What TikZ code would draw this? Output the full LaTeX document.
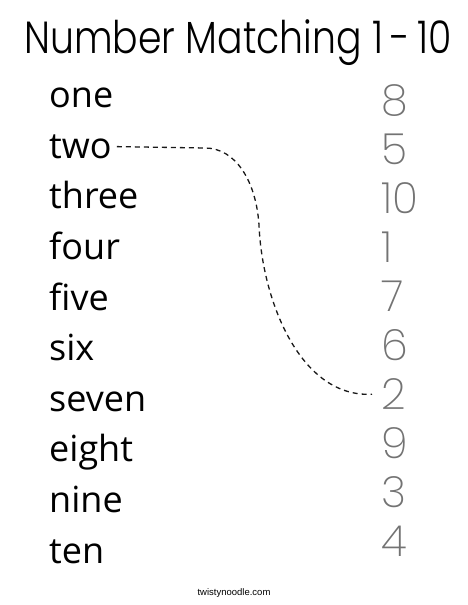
\documentclass[tikz,border=0pt]{standalone}
\usepackage{fontspec}
\setmainfont{Open Sans}
\newfontfamily\titlefont{Poppins Light}[FakeStretch=0.84]
\newfontfamily\digitfont{Poppins ExtraLight}
\newfontfamily\footfont{Liberation Sans}
\begin{document}
\begin{tikzpicture}[x=1pt,y=-1pt,
  word/.style={anchor=base west, inner sep=0pt, font=\fontsize{36}{40}\selectfont},
  digit/.style={anchor=base west, inner sep=0pt, text=black!55, font=\digitfont\fontsize{43}{48}\selectfont},
  link/.style={dash pattern=on 5pt off 4pt, line width=1.3pt, black!90}]
\useasboundingbox (0,0) rectangle (468,605);
\node[anchor=base west, inner sep=0pt, font=\titlefont\fontsize{45}{50}\selectfont] (title) at (24,53) {Number Matching 1\,-\,10};
\node[word] (w1)  at (49,107.7) {one};
\node[word] (w2)  at (49,158.3) {two};
\node[word] (w3)  at (49,208.9) {three};
\node[word] (w4)  at (49,259.5) {four};
\node[word] (w5)  at (49,310.1) {five};
\node[word] (w6)  at (49,360.7) {six};
\node[word] (w7)  at (49,411.3) {seven};
\node[word] (w8)  at (49,461.9) {eight};
\node[word] (w9)  at (49,512.5) {nine};
\node[word] (w10) at (49,563.1) {ten};
\node[digit] (d1)  at (381,115.7) {8};
\node[digit] (d2)  at (381,164.7) {5};
\node[digit] (d3)  at (381,213.7) {10};
\node[digit] (d4)  at (381,262.7) {1};
\node[digit] (d5)  at (381,311.7) {7};
\node[digit] (d6)  at (381,360.7) {6};
\node[digit] (d7)  at (381,409.7) {2};
\node[digit] (d8)  at (381,458.7) {9};
\node[digit] (d9)  at (381,507.7) {3};
\node[digit] (d10) at (381,556.7) {4};
\draw[link] ([xshift=5pt]w2.east) -- (205,148) .. controls (235,148) and (256,180) .. (259,225)
  .. controls (262,300) and (300,398) .. ([xshift=-9pt]d7.west);
\node[font=\footfont\fontsize{9.5}{11}\selectfont, inner sep=0pt] (foot) at (234,593) {twistynoodle.com};
\end{tikzpicture}
\end{document}
